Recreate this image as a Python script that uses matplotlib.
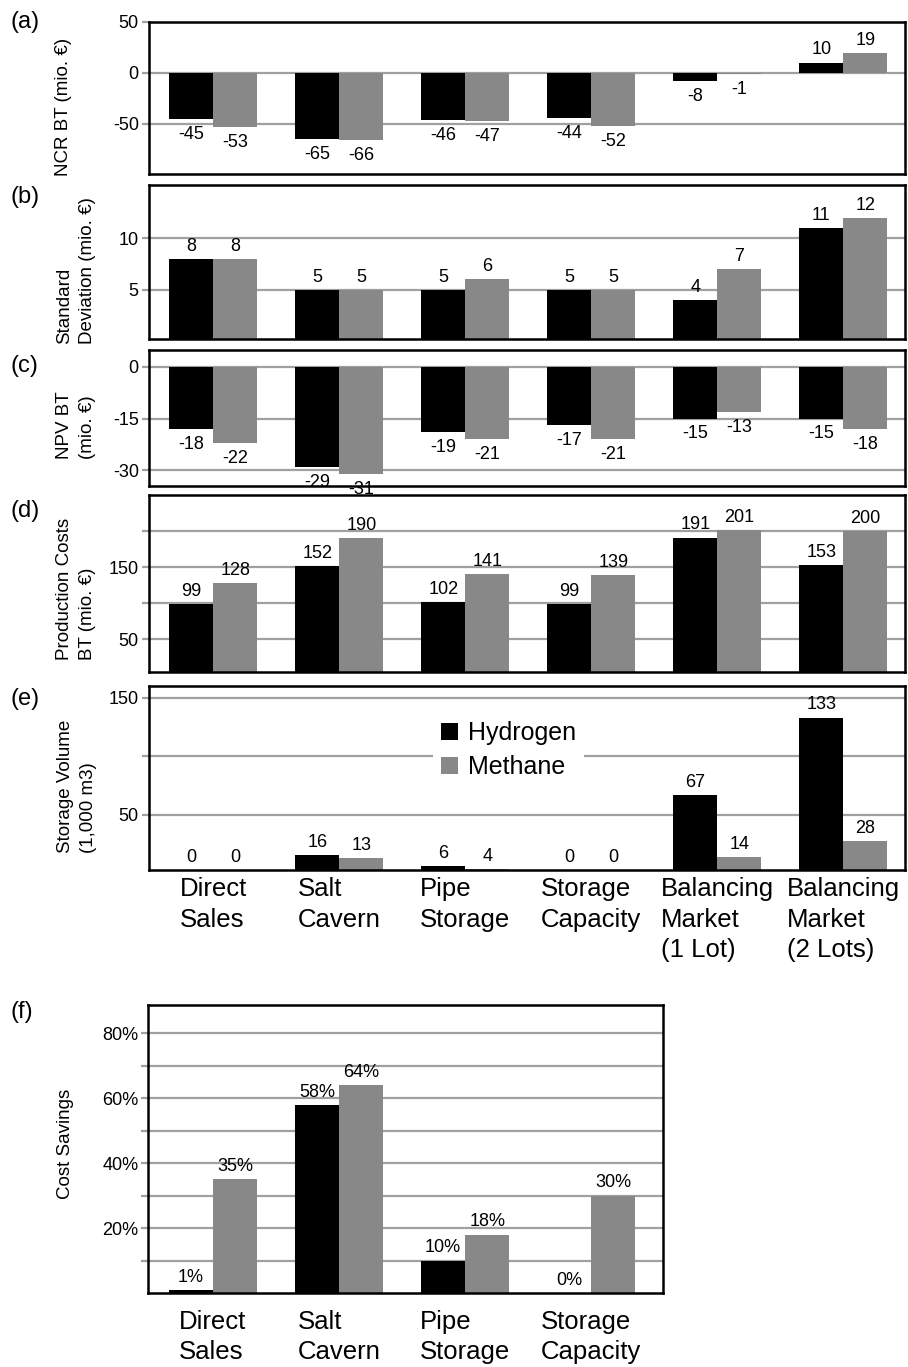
import matplotlib.pyplot as plt
import numpy as np

plt.rcParams['font.family'] = ['Liberation Sans', 'DejaVu Sans']
plt.rcParams['axes.unicode_minus'] = False

categories = ['Direct\nSales', 'Salt\nCavern', 'Pipe\nStorage', 'Storage\nCapacity',
              'Balancing\nMarket\n(1 Lot)', 'Balancing\nMarket\n(2 Lots)']
series = ['Hydrogen', 'Methane']

# (a) NCR BT
ncr_h = [-45, -65, -46, -44, -8, 10]
ncr_m = [-53, -66, -47, -52, -1, 19]
# (b) standard deviation
std_h = [8, 5, 5, 5, 4, 11]
std_m = [8, 5, 6, 5, 7, 12]
# (c) NPV BT
npv_h = [-18, -29, -19, -17, -15, -15]
npv_m = [-22, -31, -21, -21, -13, -18]
# (d) production costs
cost_h = [99, 152, 102, 99, 191, 153]
cost_m = [128, 190, 141, 139, 201, 200]
# (e) storage volume
vol_h = [0, 16, 6, 0, 67, 133]
vol_m = [0, 13, 4, 0, 14, 28]
# (f) cost savings (first four strategies only)
sav_h = [1, 58, 10, 0]
sav_m = [35, 64, 18, 30]

BLACK = '#000000'
GRAY = '#888888'
GRID = '#a0a0a0'
BW = 0.35
W, H = 908, 1367

fig = plt.figure(figsize=(W / 100, H / 100), dpi=100)


def box(left, top, right, bottom):
    return [left / W, 1 - bottom / H, (right - left) / W, (bottom - top) / H]


def panel(rect, h, m, ylim, yticks, yticklabels, xmax, fmt='{}'):
    ax = fig.add_axes(rect)
    x = np.arange(len(h))
    bh = ax.bar(x - BW / 2, h, BW, color=BLACK, label=series[0])
    bm = ax.bar(x + BW / 2, m, BW, color=GRAY, label=series[1])
    for bars, vals in ((bh, h), (bm, m)):
        for b, v in zip(bars, vals):
            cx = b.get_x() + b.get_width() / 2
            if v < 0:
                ax.annotate(fmt.format(v), (cx, v), xytext=(0, -5), textcoords='offset points',
                            ha='center', va='top', fontsize=13, annotation_clip=False)
            else:
                ax.annotate(fmt.format(v), (cx, max(v, ylim[0])), xytext=(0, 3),
                            textcoords='offset points', ha='center', va='bottom', fontsize=13,
                            annotation_clip=False)
    ax.set_xlim(-0.515, xmax)
    ax.set_ylim(ylim)
    ax.set_yticks(yticks, yticklabels)
    ax.grid(axis='y', color=GRID, lw=1.6)
    ax.set_axisbelow(True)
    ax.tick_params(axis='y', length=5, width=1.6, color=GRID, labelsize=13, pad=2)
    ax.tick_params(axis='x', length=0)
    ax.set_xticks([])
    for s in ax.spines.values():
        s.set_linewidth(1.8)
    return ax


ax_a = panel(box(148.5, 21.7, 905, 174), ncr_h, ncr_m, (-99, 50), [-50, 0, 50], ['-50', '0', '50'], 5.49)
ax_b = panel(box(148.5, 185, 905, 339), std_h, std_m, (0.2, 15.2), [5, 10], ['5', '10'], 5.49)
ax_c = panel(box(148.5, 350, 905, 486), npv_h, npv_m, (-34.5, 4.8), [-30, -15, 0], ['-30', '-15', '0'], 5.49)
ax_d = panel(box(148.5, 495, 905, 672), cost_h, cost_m, (5, 250), [50, 100, 150, 200],
             ['50', '', '150', ''], 5.49)
ax_e = panel(box(148.5, 686, 905, 870), vol_h, vol_m, (3, 160), [50, 100, 150], ['50', '', '150'], 5.49)
ax_f = panel(box(148, 1005, 663, 1293), sav_h, sav_m, (0, 88.7), list(range(10, 90, 10)),
             ['', '20%', '', '40%', '', '60%', '', '80%'], 3.569, fmt='{}%')

ax_e.set_xticks(np.arange(len(categories)), categories, fontsize=18.5, multialignment='left',
                linespacing=1.35)
ax_e.tick_params(axis='x', length=0, pad=5)
ax_f.set_xticks(np.arange(len(sav_h)), categories[:len(sav_h)], fontsize=18.5, multialignment='left',
                linespacing=1.35)
ax_f.tick_params(axis='x', length=0, pad=12)

leg = ax_e.legend(loc='center', bbox_to_anchor=(0.476, 0.652), fontsize=18, frameon=True,
                  facecolor='white', edgecolor='none', framealpha=1, fancybox=False,
                  handlelength=0.7, handleheight=0.7, handletextpad=0.4, labelspacing=0.4,
                  borderpad=0.3, borderaxespad=0)

# y axis titles
ylabels = [
    ('NCR BT (mio. €)', 64, 107),
    ('Standard\nDeviation (mio. €)', 76, 271),
    ('NPV BT\n(mio. €)', 76, 425),
    ('Production Costs\nBT (mio. €)', 76, 589),
    ('Storage Volume\n(1,000 m3)', 77, 786),
    ('Cost Savings', 65, 1144),
]
for txt, px, py in ylabels:
    fig.text(px / W, 1 - py / H, txt, rotation=90, ha='center', va='center',
             multialignment='left', fontsize=13.5, linespacing=1.4)

# panel letters
for lab, py in zip(['(a)', '(b)', '(c)', '(d)', '(e)', '(f)'], [22, 197, 366, 511, 699, 1012]):
    fig.text(10 / W, 1 - py / H, lab, ha='left', va='center', fontsize=17)

fig.savefig('out.png', dpi=100)
